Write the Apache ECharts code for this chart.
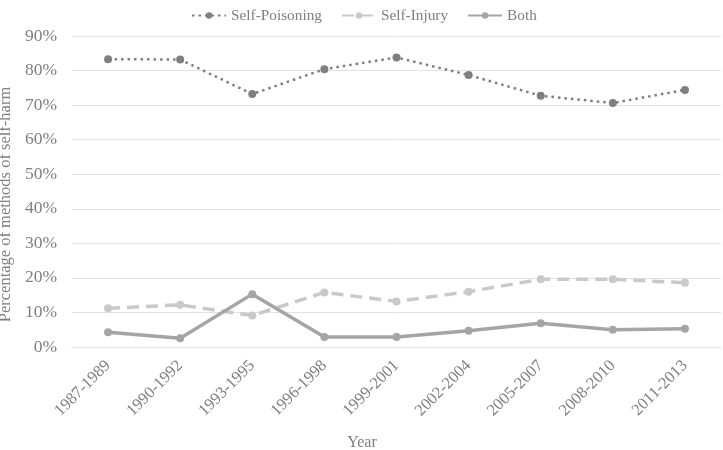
<!DOCTYPE html>
<html><head><meta charset="utf-8">
<script src="https://cdn.jsdelivr.net/npm/echarts@6/dist/echarts.min.js"></script>
<style>html,body{margin:0;padding:0;background:#fff}#c{width:723px;height:450px}</style>
</head><body><div id="c"></div>
<script>
const categories = ['1987-1989','1990-1992','1993-1995','1996-1998','1999-2001','2002-2004','2005-2007','2008-2010','2011-2013'];
const selfPoisoning = [83.3, 83.2, 73.2, 80.4, 83.8, 78.7, 72.7, 70.6, 74.4];
const selfInjury = [11.2, 12.2, 9.1, 15.8, 13.2, 16.0, 19.6, 19.6, 18.6];
const both = [4.3, 2.5, 15.3, 2.9, 2.9, 4.7, 6.9, 5.0, 5.3];
const yTicks = {min: 0, max: 90, interval: 10};

const font = 'Liberation Serif';
const txt = '#7f7f7f';
const chart = echarts.init(document.getElementById('c'));
function mk(name, data, color, type, width) {
  return {name, type: 'line', data, symbol: 'circle', symbolSize: 8,
    itemStyle: {color}, lineStyle: {color, width, type}, emphasis: {disabled: true}};
}
chart.setOption({
  animation: false,
  textStyle: {fontFamily: font},
  legend: {top: 3, left: 186, itemWidth: 34, itemHeight: 8, itemGap: 19,
    textStyle: {fontFamily: font, fontSize: 15.3, color: txt},
    data: ['Self-Poisoning', 'Self-Injury', 'Both']},
  grid: {left: 72, right: 2, top: 36, bottom: 103, outerBoundsMode: 'none'},
  xAxis: {type: 'category', data: categories, boundaryGap: true,
    name: 'Year', nameLocation: 'middle', nameGap: 88,
    nameTextStyle: {fontFamily: font, fontSize: 16, color: txt, padding: [0, 69, 0, 0]},
    axisLine: {show: true, lineStyle: {color: '#e2e2e2'}}, axisTick: {show: false},
    axisLabel: {rotate: 45, fontFamily: font, fontSize: 16.5, color: txt, margin: 16, interval: 0}},
  yAxis: {type: 'value', min: yTicks.min, max: yTicks.max, interval: yTicks.interval,
    name: 'Percentage of methods of self-harm', nameLocation: 'middle', nameGap: 52,
    nameTextStyle: {fontFamily: font, fontSize: 16.5, color: txt, padding: [0, 26, 0, 0]},
    axisLine: {show: false}, axisTick: {show: false},
    splitLine: {lineStyle: {color: '#e2e2e2', width: 1}},
    axisLabel: {formatter: '{value}%', fontFamily: font, fontSize: 17.5, color: txt, margin: 15}},
  series: [
    mk('Self-Poisoning', selfPoisoning, '#7f7f7f', [2.5, 4], 2.5),
    mk('Self-Injury', selfInjury, '#c9c9c9', [12, 7], 3.5),
    mk('Both', both, '#a5a5a5', 'solid', 3.5)
  ]
});
</script></body></html>
